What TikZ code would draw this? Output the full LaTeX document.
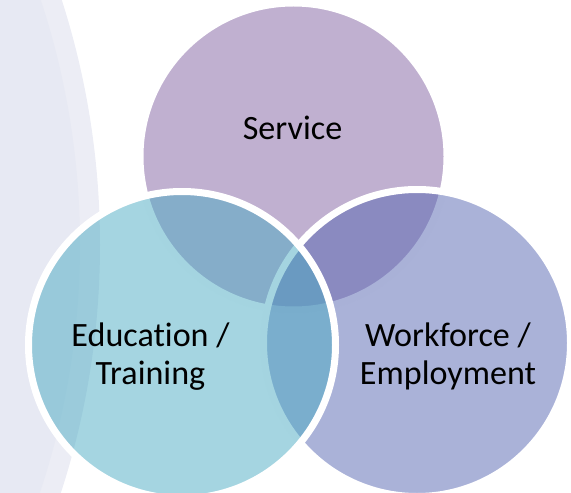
\documentclass[tikz,border=0pt]{standalone}
\usepackage{fontspec}
\setmainfont{Carlito}[Ligatures=NoCommon]
\usepackage{tikz}
\definecolor{bg-light}{RGB}{236,237,245}
\definecolor{bg-dark}{RGB}{231,233,243}
\definecolor{service-col}{RGB}{129,97,161}
\definecolor{work-col}{RGB}{85,101,177}
\definecolor{edu-col}{RGB}{75,171,195}

\tikzset{
  venn/.style={fill opacity=0.5, draw=white, draw opacity=1, line width=0.14cm},
  lbl/.style={align=center, anchor=base, inner sep=0pt,
    font=\fontsize{19.4pt}{21.5pt}\selectfont}
}

\begin{document}
\begin{tikzpicture}[x=0.02cm, y=-0.02cm]
 \useasboundingbox (0,0) rectangle (571,493);
 \clip (0,0) rectangle (571,493);
 %backdrop arc on the left
 \fill[bg-light] (-700,245) circle [radius=800];
 \fill[bg-dark] (-700,245) circle [radius=780];
 %the three sets, drawn back to front
 \coordinate (service) at (293.5,156.5);
 \coordinate (work) at (417,343);
 \coordinate (edu) at (182,345);
 \draw[venn, fill=service-col] (service) circle [radius=153.5];
 \draw[venn, fill=work-col] (work) circle [radius=153.5];
 \draw[venn, fill=edu-col] (edu) circle [radius=153.5];
 %labels
 \node[lbl] (service-lbl) at (292.5,140) {Service};
 \node[lbl] (edu-lbl) at (150.5,384) {Education /\\Training};
 \node[lbl] (work-lbl) at (448,384) {Workforce /\\Employment};
\end{tikzpicture}
\end{document}
